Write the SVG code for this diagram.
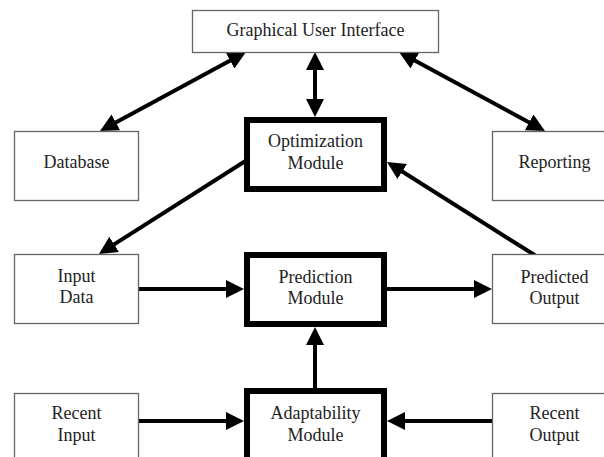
<svg xmlns="http://www.w3.org/2000/svg" width="604" height="457" viewBox="0 0 604 457">
  <style>
    .thin { fill: #fff; stroke: #666; stroke-width: 1.3; }
    .thick { fill: #fff; stroke: #000; stroke-width: 6; }
    .lbl { font-family: "Liberation Serif", "Times New Roman", serif; font-size: 18px; fill: #222; text-anchor: middle; }
    .conn { stroke: #000; stroke-width: 4; fill: none; }
  </style>
  <defs>
    <marker id="ah" markerUnits="userSpaceOnUse" markerWidth="18" markerHeight="18" refX="8" refY="9" orient="auto-start-reverse">
      <path d="M0,0 L18,9 L0,18 z" fill="#000"/>
    </marker>
  </defs>
  <rect width="604" height="457" fill="#fff"/>

  <g id="connectors">
    <line class="conn" x1="237.2" y1="56.8" x2="108.8" y2="126.2" marker-start="url(#ah)" marker-end="url(#ah)"/>
    <line class="conn" x1="315" y1="62" x2="315" y2="107" marker-start="url(#ah)" marker-end="url(#ah)"/>
    <line class="conn" x1="407.8" y1="56.8" x2="536.2" y2="126.2" marker-start="url(#ah)" marker-end="url(#ah)"/>
    <line class="conn" x1="249" y1="158.8" x2="107.4" y2="248.6" marker-end="url(#ah)"/>
    <line class="conn" x1="535" y1="255.3" x2="395.5" y2="167.3" marker-end="url(#ah)"/>
    <line class="conn" x1="138" y1="289" x2="234" y2="289" marker-end="url(#ah)"/>
    <line class="conn" x1="387" y1="289" x2="482" y2="289" marker-end="url(#ah)"/>
    <line class="conn" x1="315" y1="388" x2="315" y2="337" marker-end="url(#ah)"/>
    <line class="conn" x1="138" y1="421" x2="234" y2="421" marker-end="url(#ah)"/>
    <line class="conn" x1="492" y1="421" x2="397" y2="421" marker-end="url(#ah)"/>
  </g>

  <g id="gui">
    <rect class="thin" x="192.5" y="10.5" width="246" height="42"/>
    <text class="lbl" x="315.5" y="36">Graphical User Interface</text>
  </g>
  <g id="database">
    <rect class="thin" x="14.5" y="131.5" width="124" height="69"/>
    <text class="lbl" x="76.5" y="168">Database</text>
  </g>
  <g id="optimization">
    <rect class="thick" x="247" y="120" width="137" height="69"/>
    <text class="lbl" x="315.5" y="147">Optimization</text>
    <text class="lbl" x="315.5" y="169">Module</text>
  </g>
  <g id="reporting">
    <rect class="thin" x="492.5" y="131.5" width="124" height="69"/>
    <text class="lbl" x="554.5" y="168">Reporting</text>
  </g>
  <g id="input-data">
    <rect class="thin" x="14.5" y="254.5" width="124" height="69"/>
    <text class="lbl" x="76.5" y="282">Input</text>
    <text class="lbl" x="76.5" y="303">Data</text>
  </g>
  <g id="prediction">
    <rect class="thick" x="247" y="255" width="137" height="69"/>
    <text class="lbl" x="315.5" y="283">Prediction</text>
    <text class="lbl" x="315.5" y="304">Module</text>
  </g>
  <g id="predicted-output">
    <rect class="thin" x="492.5" y="254.5" width="124" height="69"/>
    <text class="lbl" x="554.5" y="283">Predicted</text>
    <text class="lbl" x="554.5" y="304">Output</text>
  </g>
  <g id="recent-input">
    <rect class="thin" x="14.5" y="393.5" width="124" height="69"/>
    <text class="lbl" x="76.5" y="419">Recent</text>
    <text class="lbl" x="76.5" y="441">Input</text>
  </g>
  <g id="adaptability">
    <rect class="thick" x="247" y="391" width="137" height="69"/>
    <text class="lbl" x="315.5" y="419">Adaptability</text>
    <text class="lbl" x="315.5" y="441">Module</text>
  </g>
  <g id="recent-output">
    <rect class="thin" x="492.5" y="393.5" width="124" height="69"/>
    <text class="lbl" x="554.5" y="419">Recent</text>
    <text class="lbl" x="554.5" y="441">Output</text>
  </g>
</svg>
